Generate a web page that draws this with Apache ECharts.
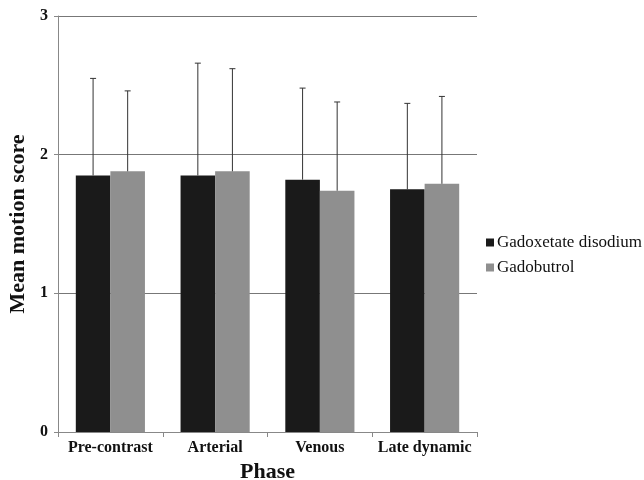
<!DOCTYPE html>
<html>
<head>
<meta charset="utf-8">
<script src="https://cdn.jsdelivr.net/npm/echarts@6/dist/echarts.min.js"></script>
<style>
  html, body { margin: 0; padding: 0; background: #fff; }
  #chart { width: 644px; height: 480px; }
</style>
</head>
<body>
<div id="chart"></div>
<script>
const phases = ['Pre-contrast', 'Arterial', 'Venous', 'Late dynamic']
const seriesNames = ['Gadoxetate disodium', 'Gadobutrol']
const gadoxetateMean = [1.85, 1.85, 1.82, 1.75]
const gadoxetateSD = [0.70, 0.81, 0.66, 0.62]
const gadobutrolMean = [1.88, 1.88, 1.74, 1.79]
const gadobutrolSD = [0.58, 0.74, 0.64, 0.63]
const yTicks = [0, 1, 2, 3]

const font = 'Liberation Serif'
const gapRatio = 0.34

function errorSeries(means, sds, side) {
  return {
    type: 'custom',
    z: 5,
    silent: true,
    data: means.map((m, i) => [i, m, m + sds[i]]),
    encode: { x: 0, y: [1, 2] },
    renderItem: (params, api) => {
      const i = api.value(0)
      const base = api.coord([i, api.value(1)])
      const top = api.coord([i, api.value(2)])
      const band = api.size([1, 0])[0]
      const bw = band * (1 - gapRatio) / 2
      const cx = base[0] + side * bw / 2
      const style = { stroke: '#333', lineWidth: 1 }
      return {
        type: 'group',
        children: [
          { type: 'line', shape: { x1: cx, y1: base[1], x2: cx, y2: top[1] }, style },
          { type: 'line', shape: { x1: cx - 3, y1: top[1], x2: cx + 3, y2: top[1] }, style },
        ],
      }
    },
  }
}

const chart = echarts.init(document.getElementById('chart'))
chart.setOption({
  animation: false,
  textStyle: { fontFamily: font },
  grid: { left: 58, right: 167, top: 16, bottom: 48, outerBoundsMode: 'none' },
  legend: {
    data: seriesNames,
    orient: 'vertical',
    left: 486,
    top: 234,
    itemWidth: 8,
    itemHeight: 8,
    itemGap: 8,
    padding: 0,
    icon: 'rect',
    textStyle: { fontFamily: font, fontSize: 17, color: '#111', padding: [0, 0, 0, -2] },
  },
  xAxis: {
    type: 'category',
    data: phases,
    name: 'Phase',
    nameLocation: 'middle',
    nameGap: 29,
    nameTextStyle: { fontFamily: font, fontSize: 22, fontWeight: 'bold', color: '#111' },
    axisLine: { lineStyle: { color: '#888' } },
    axisTick: { show: true, interval: 0, length: 5, lineStyle: { color: '#888' } },
    axisLabel: { interval: 0, fontFamily: font, fontSize: 16, fontWeight: 'bold', color: '#111', margin: 8 },
  },
  yAxis: {
    type: 'value',
    min: yTicks[0],
    max: yTicks[yTicks.length - 1],
    interval: 1,
    name: 'Mean motion score',
    nameLocation: 'middle',
    nameGap: 28,
    nameTextStyle: { fontFamily: font, fontSize: 22, fontWeight: 'bold', color: '#111' },
    axisLine: { show: true, lineStyle: { color: '#888' } },
    axisTick: { show: true, length: 4, lineStyle: { color: '#888' } },
    axisLabel: { fontFamily: font, fontSize: 16, fontWeight: 'bold', color: '#111', margin: 10 },
    splitLine: { lineStyle: { color: '#777' } },
  },
  series: [
    {
      name: seriesNames[0],
      type: 'bar',
      data: gadoxetateMean,
      barGap: 0,
      barCategoryGap: gapRatio * 100 + '%',
      itemStyle: { color: '#1a1a1a' },
    },
    {
      name: seriesNames[1],
      type: 'bar',
      data: gadobutrolMean,
      barGap: 0,
      barCategoryGap: gapRatio * 100 + '%',
      itemStyle: { color: '#8f8f8f' },
    },
    errorSeries(gadoxetateMean, gadoxetateSD, -1),
    errorSeries(gadobutrolMean, gadobutrolSD, 1),
  ],
})
</script>
</body>
</html>
